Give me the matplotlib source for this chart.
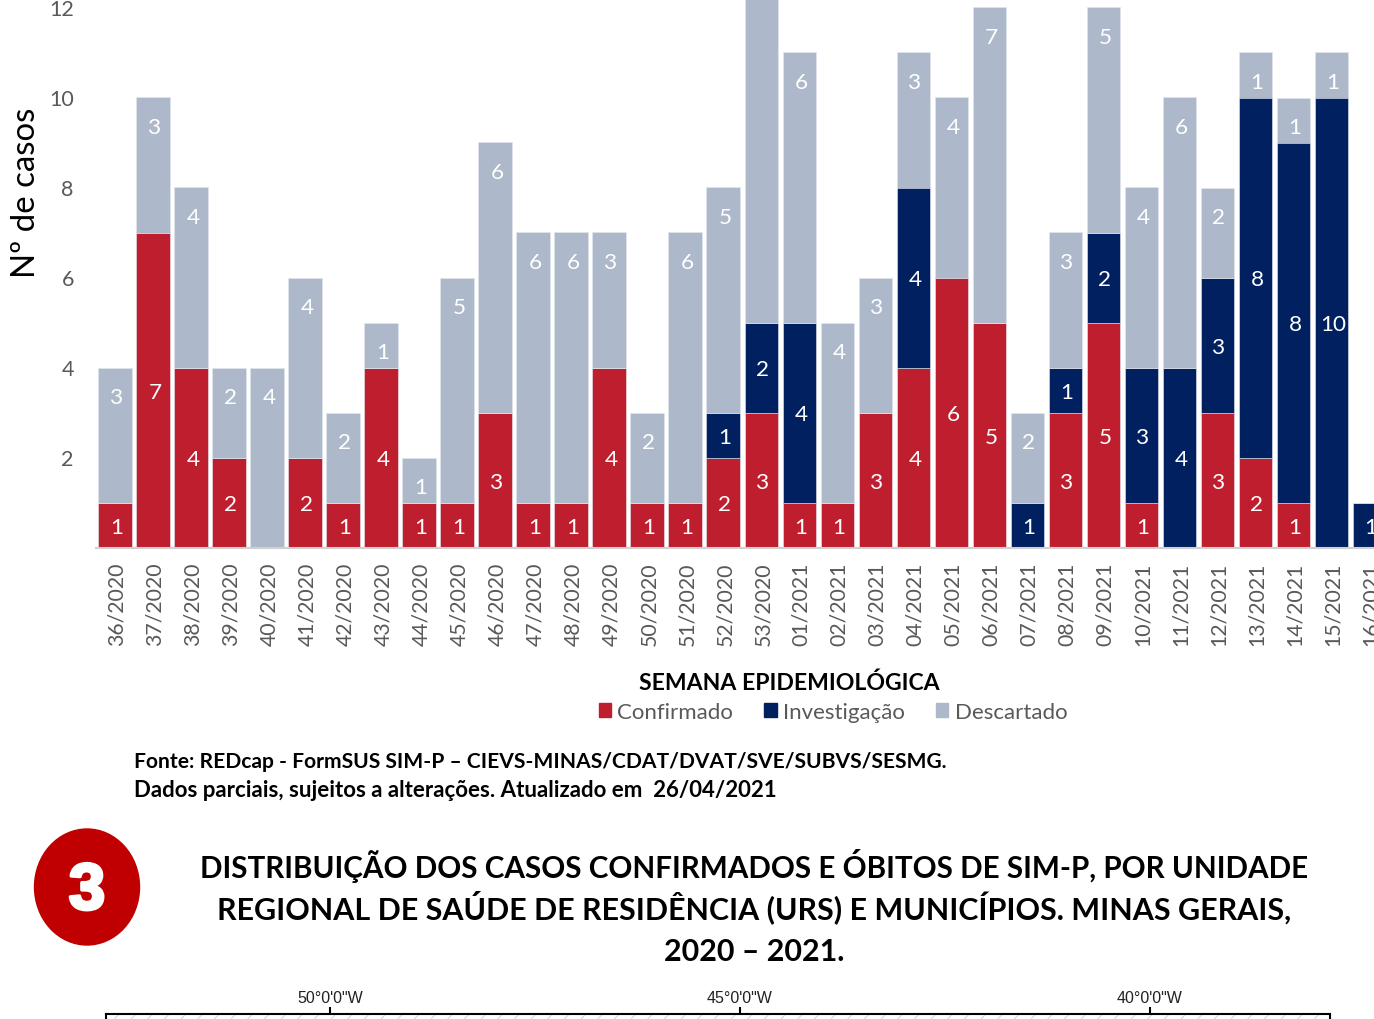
import matplotlib
matplotlib.use("Agg")
import matplotlib.pyplot as plt
import matplotlib.patheffects as pe
from matplotlib.patches import Ellipse, Patch, Rectangle
from matplotlib.transforms import ScaledTranslation

plt.rcParams['font.family'] = ['Lato', 'DejaVu Sans']
plt.rcParams['hatch.linewidth'] = 0.6

W, H = 1374, 1020

weeks = ['36/2020', '37/2020', '38/2020', '39/2020', '40/2020', '41/2020', '42/2020',
         '43/2020', '44/2020', '45/2020', '46/2020', '47/2020', '48/2020', '49/2020',
         '50/2020', '51/2020', '52/2020', '53/2020', '01/2021', '02/2021', '03/2021',
         '04/2021', '05/2021', '06/2021', '07/2021', '08/2021', '09/2021', '10/2021',
         '11/2021', '12/2021', '13/2021', '14/2021', '15/2021', '16/2021']
confirmado = [1, 7, 4, 2, 0, 2, 1, 4, 1, 1, 3, 1, 1, 4, 1, 1, 2, 3,
              1, 1, 3, 4, 6, 5, 0, 3, 5, 1, 0, 3, 2, 1, 0, 0]
investigacao = [0, 0, 0, 0, 0, 0, 0, 0, 0, 0, 0, 0, 0, 0, 0, 0, 1, 2,
                4, 0, 0, 4, 0, 0, 1, 1, 2, 3, 4, 3, 8, 8, 10, 1]
# the 53/2020 bar runs off the top of the page, its value is a guess
descartado = [3, 3, 4, 2, 4, 4, 2, 1, 1, 5, 6, 6, 6, 3, 2, 6, 5, 8,
              6, 4, 3, 3, 4, 7, 2, 3, 5, 4, 6, 2, 1, 1, 1, 0]

series = [('Confirmado', confirmado, '#BE1E2D'),
          ('Investigação', investigacao, '#00205F'),
          ('Descartado', descartado, '#ADB9CA')]

map_lons = [-50, -45, -40]
map_labels = ['50°0\'0"W', '45°0\'0"W', '40°0\'0"W']

title_lines = ['DISTRIBUIÇÃO DOS CASOS CONFIRMADOS E ÓBITOS DE SIM-P, POR UNIDADE',
               'REGIONAL DE SAÚDE DE RESIDÊNCIA (URS) E MUNICÍPIOS. MINAS GERAIS,',
               '2020 – 2021.']
title_y = [878, 919, 961]
title_px = [29.6, 30.4, 30.4]
fonte_lines = ['Fonte: REDcap - FormSUS SIM-P – CIEVS-MINAS/CDAT/DVAT/SVE/SUBVS/SESMG.',
               'Dados parciais, sujeitos a alterações. Atualizado em  26/04/2021']
fonte_y = [768, 797]
fonte_px = [21, 22.3]


def px(x, y):
    return x / W, 1 - y / H


def size(p):
    return p * 0.72


fig = plt.figure(figsize=(W / 100, H / 100), dpi=100)

ax = fig.add_axes([96 / W, 1 - 548.5 / H, (W - 96) / W, 548.5 / H])
ymax = 548.5 / 45
bottom = [0] * len(weeks)
for name, vals, col in series:
    ax.bar(range(len(weeks)), vals, width=0.87, bottom=bottom, color=col, label=name,
           edgecolor='#E4E8EF', linewidth=0.4)
    for i, v in enumerate(vals):
        if v == 0:
            continue
        # Descartado labels sit just under the top of the segment
        if name == 'Descartado':
            pos = bottom[i] + v - 0.645
        else:
            pos = bottom[i] + v / 2 - 0.04
        if pos < ymax:
            ax.text(i + 0.05, pos, str(v), color='white', ha='center',
                    va='center', fontsize=size(22.5))
    bottom = [b + v for b, v in zip(bottom, vals)]

ax.set_xlim(-0.5, 33.13)
ax.set_ylim(0, ymax)
ax.set_xticks(range(len(weeks)))
ax.set_xticklabels(weeks, rotation=90, fontsize=size(21.3), color='#595959')
ax.set_yticks([2, 4, 6, 8, 10, 12])
ax.set_yticklabels(['2', '4', '6', '8', '10', '12'], fontsize=size(21.5), color='#595959')
ax.tick_params(axis='x', length=0, pad=10)
ax.tick_params(axis='y', length=0, pad=16)
nudge = ScaledTranslation(2 / 100, 0, fig.dpi_scale_trans)
for lab in ax.get_xticklabels():
    lab.set_transform(lab.get_transform() + nudge)
for s in ['top', 'left', 'right']:
    ax.spines[s].set_visible(False)
ax.spines['bottom'].set_color('#D0D0D0')
ax.spines['bottom'].set_linewidth(1.5)

x, y = px(26, 193)
fig.text(x, y, 'Nº de casos', rotation=90, ha='center', va='center', fontsize=size(33), color='black')

x, y = px(789, 690)
fig.text(x, y, 'SEMANA EPIDEMIOLÓGICA', ha='center', va='baseline', fontsize=size(23),
         fontweight='bold', color='black')

handles = [Patch(color=c, label=n) for n, v, c in series]
fig.legend(handles=handles, loc='center', bbox_to_anchor=px(833, 713), ncol=3, frameon=False,
           fontsize=size(22.3), labelcolor='#595959', handlelength=0.55, handleheight=0.6,
           handletextpad=0.28, columnspacing=1.4)

for line, yy, p in zip(fonte_lines, fonte_y, fonte_px):
    x, y = px(134, yy)
    fig.text(x, y, line, ha='left', va='baseline', fontsize=size(p), fontweight='bold', color='black')

for line, yy, p in zip(title_lines, title_y, title_px):
    x, y = px(754, yy)
    fig.text(x, y, line, ha='center', va='baseline', fontsize=size(p), fontweight='bold', color='black')

badge = Ellipse(px(87, 888), 105 / W, 116 / H, transform=fig.transFigure, color='#C00000')
fig.add_artist(badge)
x, y = px(87, 910)
t = fig.text(x, y, '3', ha='center', va='baseline', fontsize=size(65), fontweight='bold',
             family='Liberation Sans', color='white')
t.set_path_effects([pe.withStroke(linewidth=2.5, foreground='white')])

# top edge of the map frame, cut by the page bottom
mp = fig.add_axes([106 / W, 0, (1330 - 106) / W, (H - 1014.5) / H])
mp.set_xlim(-50 - 224 / 82, -40 + 180 / 82)
mp.set_ylim(0, 1)
mp.add_patch(Rectangle((0, 0), 1, 1, transform=mp.transAxes, fill=False, hatch='//',
                       edgecolor='#CCCCCC', linewidth=0.5))
mp.set_yticks([])
mp.set_xticks(map_lons)
mp.set_xticklabels(map_labels, fontsize=size(16), family='Liberation Sans', color='#222222')
mp.tick_params(axis='x', top=True, bottom=False, labeltop=True, labelbottom=False, length=5,
               width=1.5, pad=1)
mp.spines['bottom'].set_visible(False)
for s in ['top', 'left', 'right']:
    mp.spines[s].set_linewidth(1.5)

fig.savefig('out.png', dpi=100)
